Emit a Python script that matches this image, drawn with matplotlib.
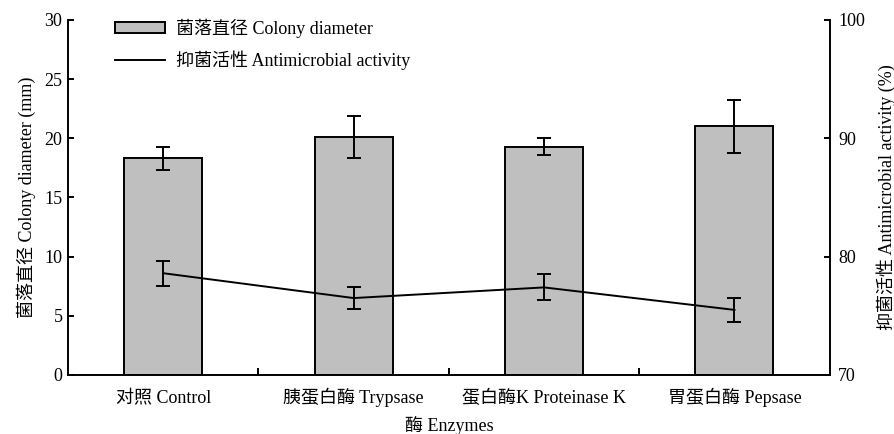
import matplotlib
matplotlib.use("Agg")
import matplotlib.pyplot as plt
import numpy as np

plt.rcParams['font.family'] = ['Liberation Serif', 'Noto Sans CJK SC']
plt.rcParams['font.size'] = 13

categories = ['对照 Control', '胰蛋白酶 Trypsase', '蛋白酶K Proteinase K', '胃蛋白酶 Pepsase']
diameter = [18.3, 20.1, 19.3, 21.0]
diameter_err = [1.0, 1.8, 0.7, 2.2]
activity = [78.6, 76.5, 77.4, 75.5]
activity_err = [1.05, 0.95, 1.1, 1.0]

fig = plt.figure(figsize=(8.95, 4.34), dpi=100)
ax = fig.add_axes([0.076, 0.136, 0.851, 0.818])
x = np.arange(len(categories))

bars = ax.bar(x, diameter, width=0.41, color='#bfbfbf', edgecolor='black', linewidth=1.4,
              label='菌落直径 Colony diameter', zorder=2)
ax.errorbar(x, diameter, yerr=diameter_err, fmt='none', ecolor='black', elinewidth=1.4,
            capsize=5, capthick=1.4, zorder=3)
ax.set_xlim(-0.5, 3.5)
ax.set_ylim(0, 30)
ax.set_yticks([0, 5, 10, 15, 20, 25, 30])
ax.set_xticks(x)
ax.set_xticklabels([''] * len(categories))
ax.tick_params(axis='x', which='major', length=0)
for xi, lab in zip(x, categories):
    ax.annotate(lab, xy=(xi, 0), xycoords=('data', 'axes fraction'),
                xytext=(0, -20.4), textcoords='offset points',
                ha='center', va='baseline', annotation_clip=False)
ax.set_xticks([0.5, 1.5, 2.5], minor=True)
ax.tick_params(axis='x', which='minor', direction='in', length=5, width=1.4)
ax.tick_params(axis='y', direction='in', length=4, width=1.4, pad=4)
ax.spines['top'].set_visible(False)
ax.spines['right'].set_visible(False)
for s in ['left', 'bottom']:
    ax.spines[s].set_linewidth(1.4)
ax.set_ylabel('菌落直径 Colony diameter (mm)', labelpad=6)
ax.set_xlabel('酶 Enzymes', labelpad=26)

ax2 = ax.twinx()
line, = ax2.plot(x, activity, color='black', linewidth=1.4, label='抑菌活性 Antimicrobial activity', zorder=4)
ax2.errorbar(x, activity, yerr=activity_err, fmt='none', ecolor='black', elinewidth=1.4,
             capsize=5, capthick=1.4, zorder=4)
ax2.set_ylim(70, 100)
ax2.set_yticks([70, 80, 90, 100])
ax2.tick_params(axis='y', direction='in', length=4, width=1.4, pad=6)
ax2.spines['top'].set_visible(False)
ax2.spines['left'].set_visible(False)
ax2.spines['bottom'].set_visible(False)
ax2.spines['right'].set_linewidth(1.4)
ax2.set_ylabel('抑菌活性 Antimicrobial activity (%)', labelpad=8)

leg = ax.legend([bars, line], ['菌落直径 Colony diameter', '抑菌活性 Antimicrobial activity'],
                loc='upper left', bbox_to_anchor=(0.04, 1.05), frameon=False,
                handlelength=2.8, handleheight=0.6, handletextpad=0.6, labelspacing=0.68)

fig.savefig('out.png', dpi=100)
